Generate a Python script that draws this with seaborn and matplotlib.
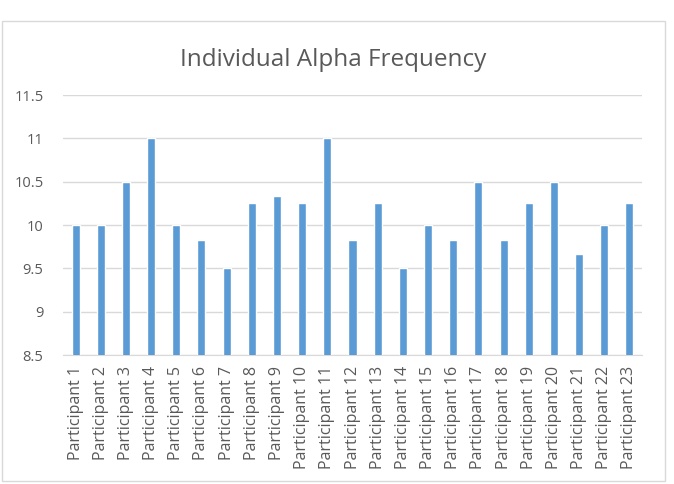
import matplotlib
matplotlib.use('Agg')
import matplotlib.pyplot as plt
import seaborn as sns
import pandas as pd
from matplotlib.patches import Rectangle

# Data
participants = ['Participant %d' % i for i in range(1, 24)]
iaf = [10, 10, 10.5, 11, 10, 9.83, 9.5, 10.25, 10.33, 10.25, 11, 9.83,
       10.25, 9.5, 10, 9.83, 10.5, 9.83, 10.25, 10.5, 9.67, 10, 10.25]
y_ticks = [8.5, 9, 9.5, 10, 10.5, 11, 11.5]

df = pd.DataFrame({'Participant': participants, 'IAF': iaf})

sns.set_style('white')
plt.rcParams['font.family'] = ['Open Sans', 'DejaVu Sans']

fig = plt.figure(figsize=(6.74, 4.84), dpi=100)
ax = fig.add_axes([0.0935, 0.2665, 0.859, 0.537])

sns.barplot(data=df, x='Participant', y='IAF', color='#5b9bd5',
            width=0.32, saturation=1, ax=ax, zorder=3)

ax.set_ylim(8.5, 11.5)
ax.set_yticks(y_ticks)
ax.set_yticklabels([('%g' % v) for v in y_ticks], color='#595959', fontsize=10.5)
ax.set_xticks(range(len(participants)))
ax.set_xticklabels(participants, rotation=90, color='#595959', fontsize=11.5)
ax.set_xlim(-0.5, len(participants) - 0.5)
ax.tick_params(axis='both', length=0)
ax.tick_params(axis='y', pad=14)
ax.tick_params(axis='x', pad=8)
ax.set_xlabel('')
ax.set_ylabel('')
ax.yaxis.grid(True, color='#d9d9d9', linewidth=1, zorder=0)
ax.set_axisbelow(True)
for s in ['top', 'right', 'left']:
    ax.spines[s].set_visible(False)
ax.spines['bottom'].set_color('#d9d9d9')

fig.text(0.494, 0.877, 'Individual Alpha Frequency', ha='center', va='center',
         fontsize=17.5, color='#595959')

# Chart area border
fig.patches.append(Rectangle((2 / 674, 3 / 484), 663 / 674, 460 / 484,
                             transform=fig.transFigure, fill=False,
                             edgecolor='#d9d9d9', linewidth=1))

fig.savefig('out.png', dpi=100)
